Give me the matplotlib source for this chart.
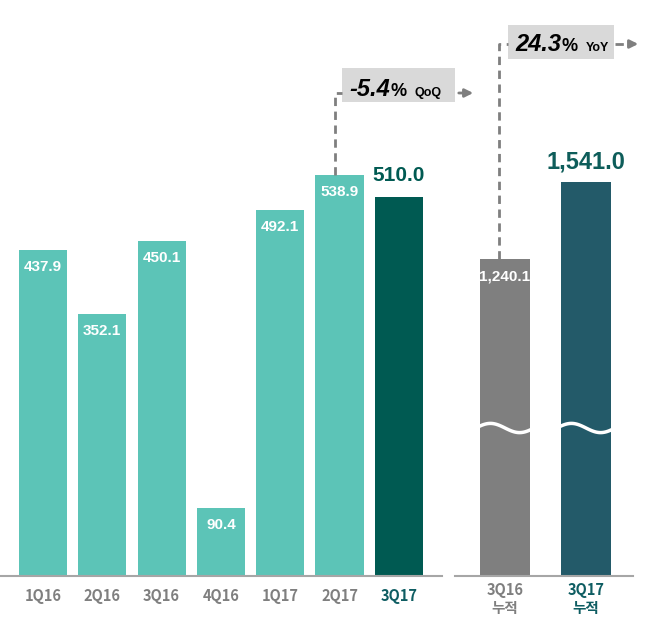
import numpy as np
import matplotlib.pyplot as plt
from matplotlib.patches import Rectangle, FancyArrowPatch
from matplotlib.lines import Line2D

# quarterly values (left panel) and cumulative values (right panel)
quarters = ['1Q16', '2Q16', '3Q16', '4Q16', '1Q17', '2Q17', '3Q17']
quarter_values = [437.9, 352.1, 450.1, 90.4, 492.1, 538.9, 510.0]
cum_labels = ['3Q16\n누적', '3Q17\n누적']
cum_values = [1240.1, 1541.0]
qoq_change = -5.4
yoy_change = 24.3

teal = '#5cc4b7'
dark_green = '#005a52'
gray = '#7f7f7f'
dark_teal = '#235a69'
label_font = ['Noto Sans CJK KR', 'DejaVu Sans']

W, H = 658, 627
fig = plt.figure(figsize=(W / 100, H / 100), dpi=100)


def fx(x):
    return x / W


def fy(y):
    return 1 - y / H


base = 575.5
ax1 = fig.add_axes([0, fy(base), fx(442), base / H])
ax2 = fig.add_axes([fx(455), fy(base), fx(633 - 455), base / H])

# left panel: quarterly bars
ax1.bar(range(len(quarters)), quarter_values, width=0.81,
        color=[teal] * 6 + [dark_green])
ax1.set_xlim(-43 / 59.3, (442 - 43) / 59.3)
ax1.set_ylim(0, base / 0.743)
for i, v in enumerate(quarter_values[:-1]):
    ax1.annotate(f'{v:.1f}', (i, v), xytext=(0, -17), textcoords='offset pixels',
                 ha='center', va='center', color='white', fontsize=11,
                 fontweight='bold', family='Liberation Sans')
ax1.annotate(f'{quarter_values[-1]:.1f}', (6, quarter_values[-1]), xytext=(0, 21),
             textcoords='offset pixels', ha='center', va='center', color=dark_green,
             fontsize=15, fontweight='bold', family='Liberation Sans')

# right panel: cumulative bars
ax2.bar(range(2), cum_values, width=0.617, color=[gray, dark_teal])
ax2.set_xlim(-50 / 81, (633 - 505) / 81)
ax2.set_ylim(0, base / 0.2555)
ax2.annotate(f'{cum_values[0]:,.1f}', (0, cum_values[0]), xytext=(0, -18),
             textcoords='offset pixels', ha='center', va='center', color='white',
             fontsize=11, fontweight='bold', family='Liberation Sans')
ax2.annotate(f'{cum_values[1]:,.1f}', (1, cum_values[1]), xytext=(0, 20),
             textcoords='offset pixels', ha='center', va='center', color='#0e5d5a',
             fontsize=17, fontweight='bold', family='Liberation Sans')

# axis-break waves
wave_y = (base - 428) / 0.2555
t = np.linspace(0, 1, 60)
for i in range(2):
    ax2.plot(i - 0.36 + 0.72 * t, wave_y + 18 * np.sin(2 * np.pi * t),
             color='white', lw=2.5, solid_capstyle='butt')

for ax in (ax1, ax2):
    for s in ('top', 'left', 'right'):
        ax.spines[s].set_visible(False)
    ax.spines['bottom'].set_color('#a6a6a6')
    ax.spines['bottom'].set_linewidth(1.5)
    ax.set_yticks([])
    ax.tick_params(axis='x', length=0)
    ax.patch.set_alpha(0)

ax1.set_xticks(range(len(quarters)), quarters)
ax1.tick_params(axis='x', pad=9)
for lbl in ax1.get_xticklabels():
    lbl.set_family(label_font)
    lbl.set_fontweight('bold')
    lbl.set_fontsize(10.5)
    lbl.set_color(gray)
ax1.get_xticklabels()[-1].set_color('#0e5d62')

ax2.set_xticks(range(2), cum_labels)
ax2.tick_params(axis='x', pad=5)
for lbl in ax2.get_xticklabels():
    lbl.set_family(label_font)
    lbl.set_fontweight('bold')
    lbl.set_fontsize(10.5)
    lbl.set_color(gray)
    lbl.set_linespacing(1.15)
ax2.get_xticklabels()[-1].set_color('#0e5d62')


def data_to_fig(ax, x, y):
    return fig.transFigure.inverted().transform(ax.transData.transform((x, y)))


def callout_text(x, y, value, tag):
    num = fig.text(fx(x), fy(y), f'{value:.1f}', ha='left', va='baseline',
                   fontsize=17, fontweight='bold', style='italic',
                   family='Liberation Sans')
    pct = fig.text(0, 0, '%', ha='left', va='baseline', fontsize=13,
                   fontweight='bold', family='Liberation Sans')
    fig.canvas.draw()
    r = fig.canvas.get_renderer()
    bb = num.get_window_extent(r)
    pct.set_position((fig.transFigure.inverted().transform((bb.x1 + 1, 0))[0], fy(y)))
    bb2 = pct.get_window_extent(r)
    fig.text(fig.transFigure.inverted().transform((bb2.x1 + 8, 0))[0], fy(y), tag,
             ha='left', va='baseline', fontsize=9, fontweight='bold',
             family='Liberation Sans')


line_kw = dict(color=gray, lw=2, ls=(0, (3, 2)), transform=fig.transFigure)
box_color = '#d9d9d9'

# QoQ callout
sx, sy = data_to_fig(ax1, 5 - 4 / 59.3, quarter_values[5])
fig.add_artist(Line2D([sx, sx, fx(342)], [sy, fy(93), fy(93)], **line_kw))
fig.add_artist(Rectangle((fx(342), fy(102)), fx(113), 34 / H, fc=box_color,
                         ec='none', transform=fig.transFigure))
callout_text(349, 96, qoq_change, 'QoQ')
fig.add_artist(FancyArrowPatch((fx(456), fy(93)), (fx(476), fy(93)),
                               transform=fig.transFigure, arrowstyle='-|>',
                               mutation_scale=12, color=gray, lw=2))

# YoY callout
sx, sy = data_to_fig(ax2, -6 / 81, cum_values[0])
fig.add_artist(Line2D([sx, sx, fx(508)], [sy, fy(44), fy(44)], **line_kw))
fig.add_artist(Rectangle((fx(508), fy(59)), fx(106), 34 / H, fc=box_color,
                         ec='none', transform=fig.transFigure))
callout_text(515, 51, yoy_change, 'YoY')
fig.add_artist(Line2D([fx(615), fx(630)], [fy(44), fy(44)], **line_kw))
fig.add_artist(FancyArrowPatch((fx(628), fy(44)), (fx(641), fy(44)),
                               transform=fig.transFigure, arrowstyle='-|>',
                               mutation_scale=12, color=gray, lw=2))

fig.savefig('out.png', dpi=100)
